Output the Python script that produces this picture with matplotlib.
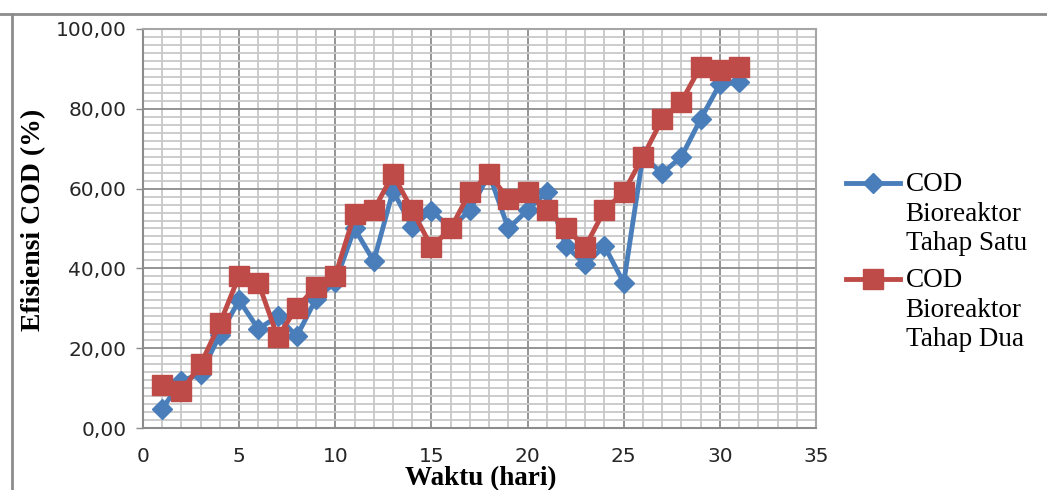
import matplotlib
matplotlib.use('Agg')
import matplotlib.pyplot as plt
from matplotlib.ticker import MultipleLocator, FuncFormatter
from matplotlib.lines import Line2D

# waktu (hari) and efisiensi COD (%)
hari = list(range(1, 32))
tahap_satu = [4.8, 11.8, 13.6, 23.4, 32.0, 24.8, 28.0, 23.0, 32.4, 36.5,
              50.0, 41.8, 59.4, 50.4, 54.5, 50.0, 54.6, 63.6, 50.0, 54.6,
              59.2, 45.6, 41.0, 45.6, 36.4, 68.2, 63.8, 68.0, 77.4, 86.2,
              86.6]
tahap_dua = [10.9, 9.2, 16.0, 26.2, 38.2, 36.4, 22.8, 30.2, 35.4, 38.2,
             53.6, 54.6, 63.6, 54.6, 45.4, 50.0, 59.1, 63.6, 57.4, 59.1,
             54.6, 50.0, 45.4, 54.6, 59.1, 68.0, 77.4, 81.8, 90.6, 89.6,
             90.6]
label_satu = 'COD\nBioreaktor\nTahap Satu'
label_dua = 'COD\nBioreaktor\nTahap Dua'

blue = '#4A7EBB'
red = '#BE4B48'

fig = plt.figure(figsize=(10.47, 4.9), dpi=100)
ax = fig.add_axes([143 / 1047, 1 - 428 / 490, (816 - 143) / 1047, (428 - 29) / 490])

ax.plot(hari, tahap_satu, color=blue, lw=3.5, marker='D', markersize=10,
        markeredgecolor=blue, label=label_satu, zorder=3)
ax.plot(hari, tahap_dua, color=red, lw=3.5, marker='s', markersize=14,
        markeredgecolor=red, label=label_dua, zorder=4)

ax.set_xlim(0, 35)
ax.set_ylim(0, 100)
ax.xaxis.set_major_locator(MultipleLocator(5))
ax.xaxis.set_minor_locator(MultipleLocator(1))
ax.yaxis.set_major_locator(MultipleLocator(20))
ax.yaxis.set_minor_locator(MultipleLocator(2))
ax.yaxis.set_major_formatter(FuncFormatter(lambda v, p: f'{v:.2f}'.replace('.', ',')))

ax.grid(which='minor', color='#c8c8c8', lw=1.3, zorder=0)
ax.grid(which='major', color='#8c8c8c', lw=1.3, zorder=1)
ax.set_axisbelow(True)

ax.tick_params(axis='y', which='major', length=5, width=1, color='#8c8c8c',
               pad=7, labelsize=14.5, labelcolor='#262626')
ax.tick_params(axis='x', which='major', length=0, pad=14, labelsize=14.5,
               labelcolor='#262626')
ax.tick_params(which='minor', length=0)
for side in ['left', 'bottom']:
    ax.spines[side].set_color('#8c8c8c')
    ax.spines[side].set_linewidth(1.5)
for side in ['top', 'right']:
    ax.spines[side].set_color('#a6a6a6')
    ax.spines[side].set_linewidth(1.5)

serif = 'Liberation Serif'
fig.text(34 / 1047, 1 - 220 / 490, 'Efisiensi COD (%)', rotation=90,
         ha='center', va='center', family=serif, fontweight='bold', fontsize=20)
fig.text(481 / 1047, 1 - 485 / 490, 'Waktu (hari)', ha='center', va='baseline',
         family=serif, fontweight='bold', fontsize=19.5)

leg = ax.legend(loc='upper left', bbox_to_anchor=(846 / 1047, 1 - 172 / 490),
                bbox_transform=fig.transFigure, frameon=False, borderpad=0,
                borderaxespad=0, handlelength=2.0, handletextpad=0.2,
                handleheight=1.0, labelspacing=0.45,
                prop={'family': serif, 'size': 19.5})
for t in leg.get_texts():
    t.set_linespacing(1.24)
# put the marker next to the first line of each label
for col in leg._legend_handle_box.get_children():
    for row in col.get_children():
        row.align = 'top'

# outer frame of the original figure
fig.add_artist(Line2D([0, 1], [1 - 14 / 490, 1 - 14 / 490], color='#8c8c8c', lw=2,
                      transform=fig.transFigure))
fig.add_artist(Line2D([12 / 1047, 12 / 1047], [0, 1 - 14 / 490], color='#8c8c8c', lw=2,
                      transform=fig.transFigure))

plt.savefig('out.png', dpi=100)
